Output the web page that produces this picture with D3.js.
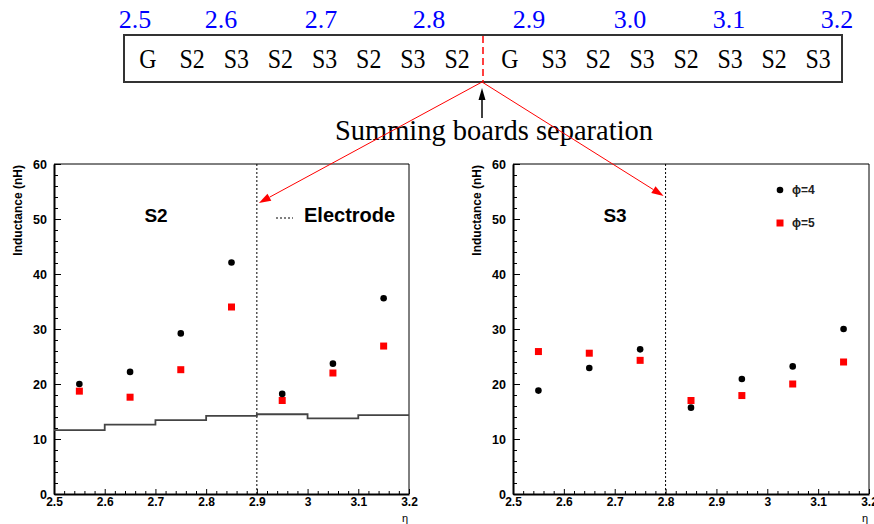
<!DOCTYPE html>
<html><head><meta charset="utf-8">
<script src="https://cdn.jsdelivr.net/npm/d3@7"></script>
<style>
html,body{margin:0;padding:0;background:#fff;}
svg{display:block;}
</style></head>
<body>
<svg id="chart" width="874" height="524"></svg>
<script>
// ---------------- DATA ----------------
const etaCenters = [2.55, 2.65, 2.75, 2.85, 2.95, 3.05, 3.15];
const s2Phi4 = [20.0, 22.2, 29.2, 42.1, 18.2, 23.7, 35.6];
const s2Phi5 = [18.7, 17.6, 22.6, 34.0, 17.0, 22.0, 26.9];
const s3Phi4 = [18.8, 22.9, 26.3, 15.7, 20.9, 23.2, 30.0];
const s3Phi5 = [25.9, 25.6, 24.3, 17.0, 17.9, 20.0, 24.0];
const electrodeEdges = [2.5, 2.6, 2.7, 2.8, 2.9, 3.0, 3.1, 3.2];
const electrodeValues = [11.6, 12.6, 13.45, 14.2, 14.5, 13.75, 14.35];
const topEtaLabels = ["2.5", "2.6", "2.7", "2.8", "2.9", "3.0", "3.1", "3.2"];
const boardsLeft = ["G", "S2", "S3", "S2", "S3", "S2", "S3", "S2"];
const boardsRight = ["G", "S3", "S2", "S3", "S2", "S3", "S2", "S3"];
const xTicks = [2.5, 2.6, 2.7, 2.8, 2.9, 3.0, 3.1, 3.2];
const yTicks = [0, 10, 20, 30, 40, 50, 60];
const legendLabels = ["ϕ=4", "ϕ=5"];

// ---------------- LAYOUT ----------------
const svg = d3.select("#chart");
const sansB = "'Liberation Sans', Arial, Helvetica, sans-serif";
const serif = "'Liberation Serif', 'Times New Roman', Times, serif";

// top diagram
const box = {x: 124, y: 35, w: 718, h: 47};
const topEtaScale = d3.scaleLinear()
  .domain(topEtaLabels.map(Number))
  .range([135, 221, 321, 429, 529, 630, 729, 837]);
const sepX = 483;

svg.append("rect").attr("x", box.x).attr("y", box.y).attr("width", box.w).attr("height", box.h)
  .attr("fill", "none").attr("stroke", "#333").attr("stroke-width", 2);

svg.append("g").selectAll("text").data(topEtaLabels).join("text")
  .attr("x", d => topEtaScale(+d)).attr("y", 28)
  .attr("text-anchor", "middle").attr("fill", "#0000ff")
  .style("font-family", serif).style("font-size", "26px").text(d => d);

const leftBoardScale = d3.scalePoint().domain(d3.range(boardsLeft.length)).range([148, 457]);
const rightBoardScale = d3.scalePoint().domain(d3.range(boardsRight.length)).range([510, 818]);
function boardText(data, scale) {
  svg.append("g").selectAll("text").data(data).join("text")
    .attr("transform", (d, i) => `translate(${scale(i)},68) scale(0.92,1.08)`)
    .attr("text-anchor", "middle").attr("fill", "#000")
    .style("font-family", serif).style("font-size", "26px").text(d => d);
}
boardText(boardsLeft, leftBoardScale);
boardText(boardsRight, rightBoardScale);

svg.append("line").attr("x1", sepX).attr("x2", sepX).attr("y1", box.y + 1).attr("y2", box.y + box.h)
  .attr("stroke", "#ff0000").attr("stroke-width", 1.5).attr("stroke-dasharray", "7,4");

// black arrow
svg.append("line").attr("x1", 482).attr("x2", 482).attr("y1", 118).attr("y2", 98)
  .attr("stroke", "#000").attr("stroke-width", 1.5);
svg.append("path").attr("d", "M482,88 L478.5,100 L485.5,100 Z").attr("fill", "#000");

svg.append("text").attr("x", 494).attr("y", 140).attr("text-anchor", "middle")
  .style("font-family", serif).style("font-size", "28.5px").attr("fill", "#000")
  .text("Summing boards separation");

// ---------------- PANELS ----------------
function panel(opts) {
  const {x0, x1, y0, y1, phi4, phi5, label, labelX, dotEta, hist, legend, titleX} = opts;
  const g = svg.append("g");
  const x = d3.scaleLinear().domain([2.5, 3.2]).range([x0, x1]);
  const y = d3.scaleLinear().domain([0, 60]).range([y1, y0]);

  // frame top/right
  g.append("line").attr("x1", x0).attr("x2", x1).attr("y1", y0).attr("y2", y0).attr("stroke", "#000").attr("stroke-width", 1);
  g.append("line").attr("x1", x1).attr("x2", x1).attr("y1", y0).attr("y2", y1).attr("stroke", "#000").attr("stroke-width", 1);

  // minor ticks
  const yMinor = d3.range(0, 60.01, 2).filter(v => v % 10 !== 0);
  g.append("g").attr("transform", `translate(${x0},0)`)
    .call(d3.axisLeft(y).tickValues(yMinor).tickSizeInner(-4).tickSizeOuter(0).tickFormat(""))
    .call(s => s.select(".domain").remove());
  const xMinor = d3.range(0, 35).map(i => 2.5 + i * 0.02).filter((v, i) => i % 5 !== 0);
  g.append("g").attr("transform", `translate(0,${y1})`)
    .call(d3.axisBottom(x).tickValues(xMinor).tickSizeInner(-3).tickSizeOuter(0).tickFormat(""))
    .call(s => s.select(".domain").remove());

  // major axes
  const ya = g.append("g").attr("transform", `translate(${x0},0)`)
    .call(d3.axisLeft(y).tickValues(yTicks).tickSizeInner(-7).tickSizeOuter(0).tickPadding(7).tickFormat(d3.format("d")));
  ya.select(".domain").attr("stroke-width", 2);
  ya.selectAll("text").style("font-family", sansB).style("font-weight", "bold").style("font-size", "12.5px").attr("fill", "#000");
  const xa = g.append("g").attr("transform", `translate(0,${y1})`)
    .call(d3.axisBottom(x).tickValues(xTicks).tickSizeInner(-5).tickSizeOuter(0).tickPadding(3).tickFormat(d => d3.format("~g")(d)));
  xa.select(".domain").attr("stroke-width", 2);
  xa.selectAll("text").style("font-family", sansB).style("font-weight", "bold").style("font-size", "12px").attr("fill", "#000");

  // axis titles
  g.append("text").attr("transform", `translate(${titleX},${y0 + 1}) rotate(-90)`).attr("text-anchor", "end")
    .style("font-family", sansB).style("font-weight", "bold").style("font-size", "12px").text("Inductance (nH)");
  g.append("text").attr("x", x1 - 4).attr("y", 521.5).attr("text-anchor", "middle")
    .style("font-family", sansB).style("font-size", "11px").text("η");

  // electrode dotted line
  g.append("line").attr("x1", x(dotEta)).attr("x2", x(dotEta)).attr("y1", y0).attr("y2", y1)
    .attr("stroke", "#000").attr("stroke-width", 1).attr("stroke-dasharray", "2,2");

  if (hist) {
    const pts = electrodeValues.map((v, i) => [electrodeEdges[i], v]);
    pts.push([electrodeEdges[electrodeEdges.length - 1], electrodeValues[electrodeValues.length - 1]]);
    g.append("path").attr("d", d3.line().x(d => x(d[0])).y(d => y(d[1])).curve(d3.curveStepAfter)(pts))
      .attr("fill", "none").attr("stroke", "#444").attr("stroke-width", 1.8);
  }

  // markers
  g.append("g").selectAll("rect").data(phi5).join("rect")
    .attr("x", (d, i) => x(etaCenters[i]) - 3.5).attr("y", d => y(d) - 3.5)
    .attr("width", 7).attr("height", 7).attr("fill", "#ff0000");
  g.append("g").selectAll("circle").data(phi4).join("circle")
    .attr("cx", (d, i) => x(etaCenters[i])).attr("cy", d => y(d)).attr("r", 3.3).attr("fill", "#000");

  // panel label
  g.append("text").attr("x", labelX).attr("y", 222).attr("text-anchor", "middle")
    .style("font-family", sansB).style("font-weight", "bold").style("font-size", "19px").text(label);

  if (legend === "electrode") {
    g.append("line").attr("x1", 276).attr("x2", 293).attr("y1", 218).attr("y2", 218)
      .attr("stroke", "#000").attr("stroke-width", 1).attr("stroke-dasharray", "2,2");
    g.append("text").attr("x", 304).attr("y", 222)
      .style("font-family", sansB).style("font-weight", "bold").style("font-size", "20px").text("Electrode");
  }
  if (legend === "phi") {
    g.append("circle").attr("cx", 780).attr("cy", 190).attr("r", 3.3).attr("fill", "#000");
    g.append("rect").attr("x", 776.5).attr("y", 219.5).attr("width", 7).attr("height", 7).attr("fill", "#ff0000");
    g.append("g").selectAll("text").data(legendLabels).join("text")
      .attr("x", 792).attr("y", (d, i) => 194 + i * 33)
      .style("font-family", sansB).style("font-weight", "bold").style("font-size", "12px").attr("fill", "#222")
      .text(d => d);
  }
  return {x, y};
}

const left = panel({x0: 54, x1: 409, y0: 164, y1: 494, phi4: s2Phi4, phi5: s2Phi5,
  label: "S2", labelX: 156, dotEta: 2.9, hist: true, legend: "electrode", titleX: 22});
const right = panel({x0: 513, x1: 869, y0: 164, y1: 494, phi4: s3Phi4, phi5: s3Phi5,
  label: "S3", labelX: 615, dotEta: 2.8, hist: false, legend: "phi", titleX: 481});

// red pointer lines from separation point to each panel's boundary
function redArrow(x1, y1, x2, y2) {
  const ang = Math.atan2(y2 - y1, x2 - x1);
  const L = 12, W = 4;
  const bx = x2 - L * Math.cos(ang), by = y2 - L * Math.sin(ang);
  svg.append("line").attr("x1", x1).attr("y1", y1).attr("x2", bx).attr("y2", by)
    .attr("stroke", "#ff0000").attr("stroke-width", 1);
  svg.append("path").attr("d", `M${x2},${y2} L${bx + W * Math.sin(ang)},${by - W * Math.cos(ang)} L${bx - W * Math.sin(ang)},${by + W * Math.cos(ang)} Z`)
    .attr("fill", "#ff0000");
}
redArrow(482, 82, left.x(2.9) + 2, 203);
redArrow(482, 82, right.x(2.8) - 2, 196);
</script>
</body></html>
